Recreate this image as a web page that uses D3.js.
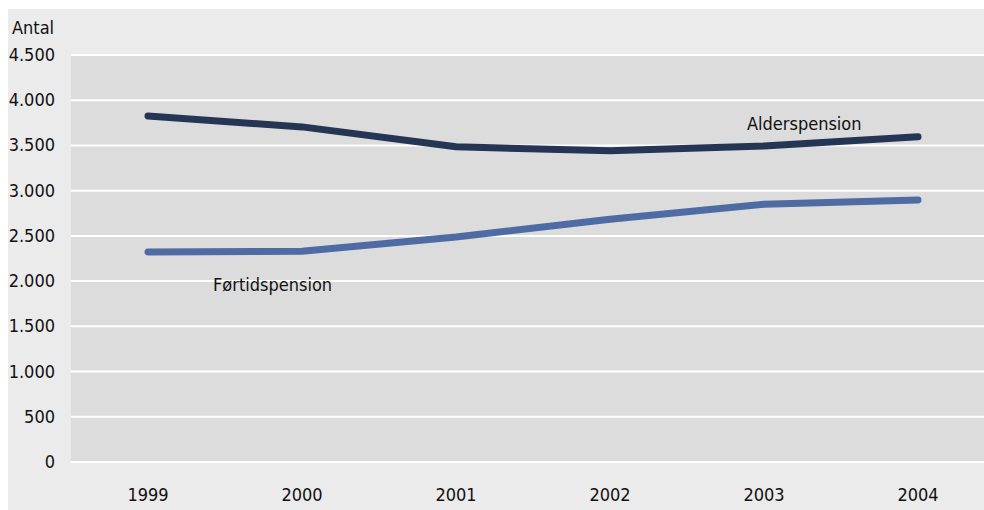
<!DOCTYPE html>
<html lang="en">
<head>
<meta charset="UTF-8">
<title>Antal pensioner</title>
<script src="https://cdn.jsdelivr.net/npm/d3@7"></script>
<style>
  body { margin: 0; background: #fff; }
  text { font-family: "DejaVu Sans Condensed", "DejaVu Sans", sans-serif; font-stretch: condensed; fill: #111; }
</style>
</head>
<body>
<div id="container"></div>
<script>
const years = ["1999", "2000", "2001", "2002", "2003", "2004"];
const alderspension = [3825, 3705, 3485, 3440, 3495, 3595];
const fortidspension = [2322, 2330, 2488, 2685, 2850, 2897];
const yTicks = [0, 500, 1000, 1500, 2000, 2500, 3000, 3500, 4000, 4500];

const width = 984;
const height = 510;
const marginTop = 55;
const marginBottom = 48;
const marginLeft = 71;
const bandW = 154;
const fontSize = 18;

const x = d3.scaleBand()
    .domain(years)
    .range([marginLeft, marginLeft + bandW * years.length]);

const y = d3.scaleLinear()
    .domain([0, 4500])
    .range([height - marginBottom, marginTop]);

const fmt = v => d3.format(",")(v).replace(/,/g, ".");

const svg = d3.create("svg")
    .attr("width", width)
    .attr("height", height);

// outer panel
svg.append("rect")
    .attr("x", 8).attr("y", 9)
    .attr("width", width - 8).attr("height", height - 9)
    .attr("fill", "#ebebeb");

// plot area
svg.append("rect")
    .attr("x", marginLeft).attr("y", y(4500))
    .attr("width", width - marginLeft).attr("height", y(0) - y(4500))
    .attr("fill", "#dcdcdc");

// gridlines
svg.append("g")
  .selectAll("line")
  .data(yTicks)
  .join("line")
    .attr("x1", marginLeft).attr("x2", width)
    .attr("y1", d => y(d)).attr("y2", d => y(d))
    .attr("stroke", "#fff")
    .attr("stroke-width", 2);

// y labels
svg.append("g")
  .selectAll("text")
  .data(yTicks)
  .join("text")
    .attr("x", 55)
    .attr("y", d => y(d) + 6)
    .attr("text-anchor", "end")
    .attr("font-size", fontSize)
    .text(fmt);

svg.append("text")
    .attr("x", 12).attr("y", 34)
    .attr("font-size", fontSize)
    .text("Antal");

// x labels
svg.append("g")
  .selectAll("text")
  .data(years)
  .join("text")
    .attr("x", d => x(d) + x.bandwidth() / 2)
    .attr("y", 501)
    .attr("text-anchor", "middle")
    .attr("font-size", fontSize)
    .text(d => d);

const line = d3.line()
    .x((d, i) => x(years[i]) + x.bandwidth() / 2)
    .y(d => y(d));

svg.append("path")
    .datum(fortidspension)
    .attr("d", line)
    .attr("fill", "none")
    .attr("stroke", "#4e6ca3")
    .attr("stroke-width", 7)
    .attr("stroke-linecap", "round")
    .attr("stroke-linejoin", "round");

svg.append("path")
    .datum(alderspension)
    .attr("d", line)
    .attr("fill", "none")
    .attr("stroke", "#253655")
    .attr("stroke-width", 7)
    .attr("stroke-linecap", "round")
    .attr("stroke-linejoin", "round");

svg.append("text")
    .attr("x", 747).attr("y", 130)
    .attr("font-size", fontSize)
    .text("Alderspension");

svg.append("text")
    .attr("x", 213).attr("y", 291)
    .attr("font-size", fontSize)
    .text("Førtidspension");

document.getElementById("container").append(svg.node());
</script>
</body>
</html>
